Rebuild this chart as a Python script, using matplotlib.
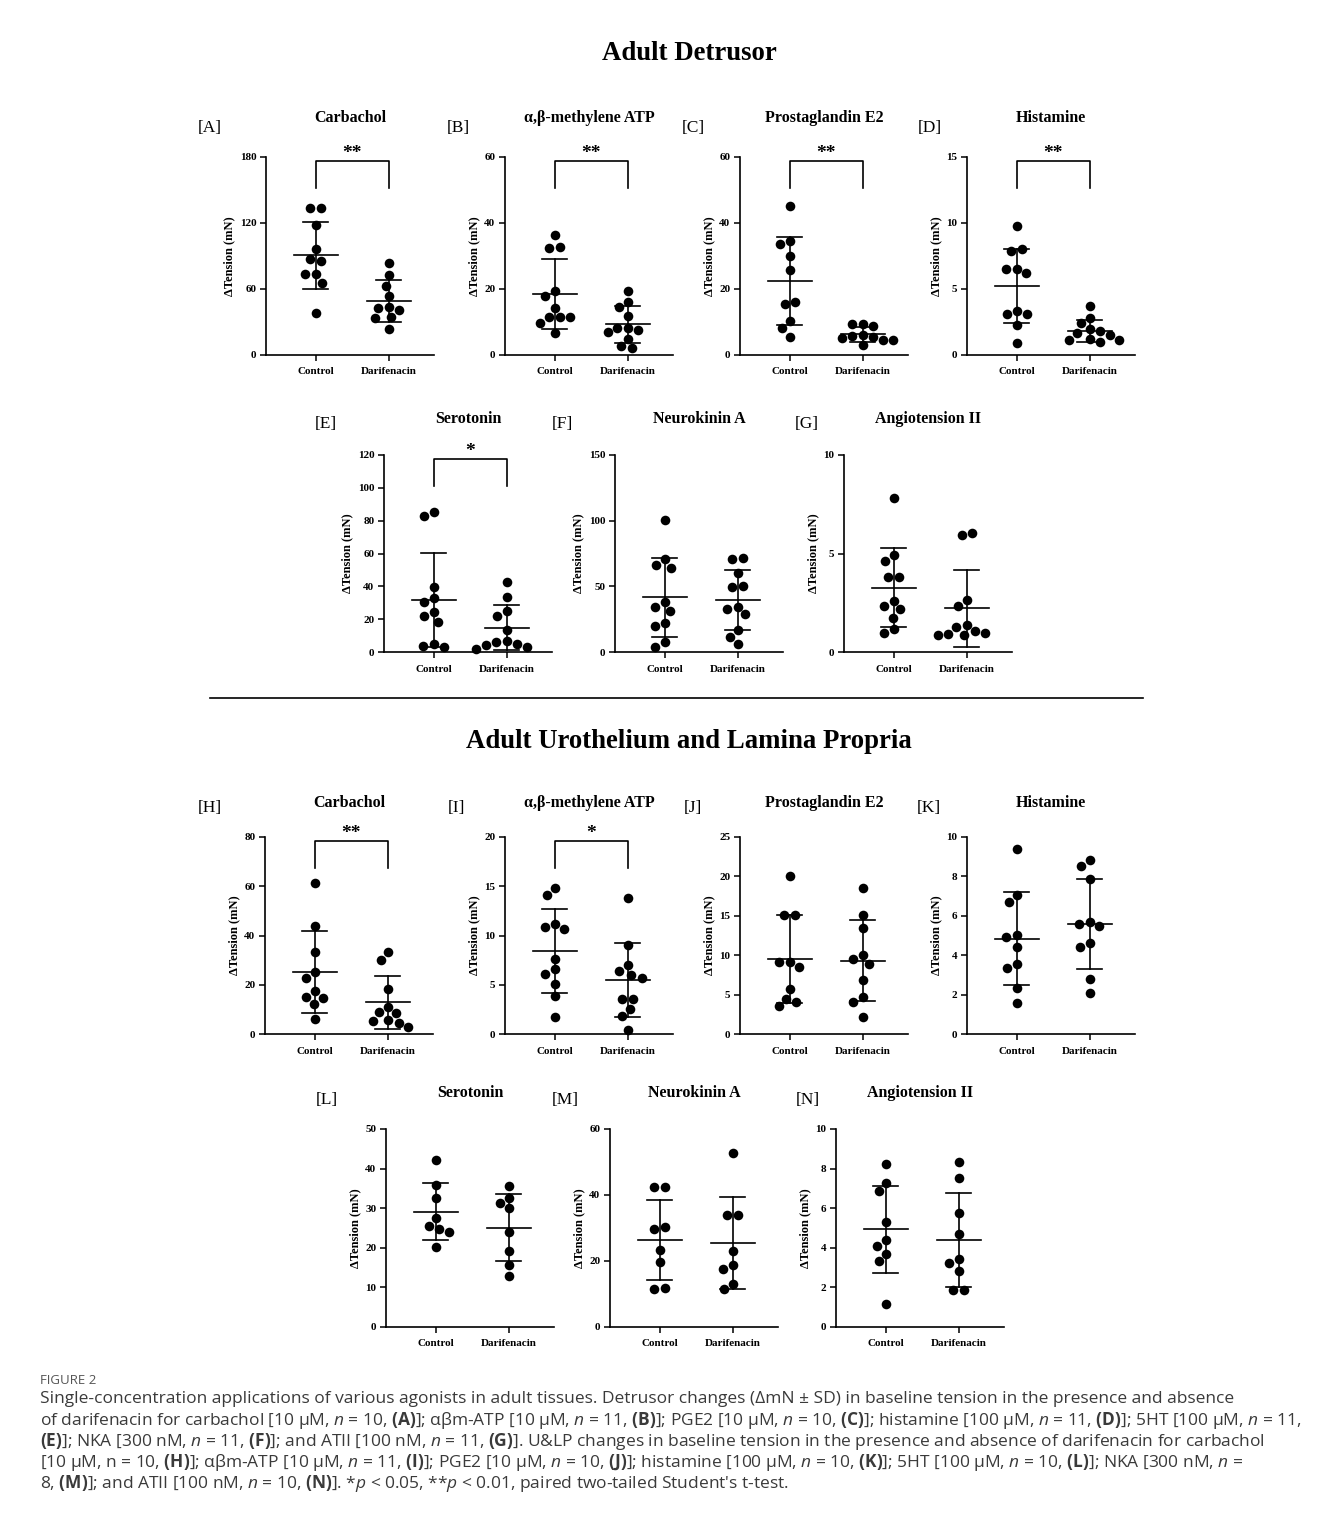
import numpy as np
import matplotlib
matplotlib.use("Agg")
import matplotlib.pyplot as plt

groups = ["Control", "Darifenacin"]

# ---- Adult detrusor (mN) ----
carb_det_ctrl = [133.6, 133.6, 117.8, 96.6, 87.1, 85.6, 73.5, 73.5, 65.9, 38.6]
carb_det_darif = [83.2, 72.3, 63.1, 54.0, 43.7, 42.5, 41.3, 34.3, 33.4, 23.7]
atp_det_ctrl = [36.5, 32.8, 32.5, 19.3, 17.8, 14.2, 11.6, 11.4, 11.4, 9.8, 6.6]
atp_det_darif = [19.5, 16.0, 14.4, 11.7, 8.3, 8.1, 7.6, 6.9, 5.0, 2.6, 2.1]
pge_det_ctrl = [45.3, 34.5, 33.5, 30.1, 25.9, 16.0, 15.4, 10.2, 8.1, 5.6]
pge_det_darif = [9.3, 9.3, 8.8, 6.1, 5.9, 5.6, 5.3, 4.5, 4.5, 2.9]
hist_det_ctrl = [9.8, 8.0, 7.9, 6.5, 6.5, 6.2, 3.3, 3.1, 3.1, 2.3, 0.9]
hist_det_darif = [3.7, 2.8, 2.4, 2.0, 1.8, 1.65, 1.5, 1.2, 1.15, 1.1, 1.0]
sero_det_ctrl = [85.2, 82.6, 39.4, 32.7, 30.6, 24.1, 22.1, 18.3, 4.9, 3.7, 3.0]
sero_det_darif = [42.6, 33.3, 24.7, 22.1, 13.6, 6.9, 6.1, 5.1, 4.1, 3.0, 2.0]
nka_det_ctrl = [100.6, 70.9, 65.9, 64.3, 37.7, 33.9, 30.9, 22.0, 19.5, 7.6, 3.8]
nka_det_darif = [71.4, 70.9, 60.0, 49.9, 49.4, 34.5, 32.9, 29.1, 17.0, 11.4, 6.1]
at2_det_ctrl = [7.82, 4.9, 4.6, 3.8, 3.8, 2.6, 2.36, 2.16, 1.74, 1.15, 0.98]
at2_det_darif = [6.05, 5.95, 2.65, 2.36, 1.39, 1.27, 1.05, 0.95, 0.93, 0.88, 0.84]

# ---- Adult urothelium & lamina propria (mN) ----
carb_ulp_ctrl = [61.5, 43.8, 33.3, 25.0, 22.7, 17.4, 15.2, 14.7, 12.3, 6.1]
carb_ulp_darif = [33.2, 30.0, 18.2, 11.1, 9.0, 8.4, 5.7, 5.4, 4.3, 2.7]
atp_ulp_ctrl = [14.84, 14.13, 11.2, 10.83, 10.7, 7.65, 6.58, 6.1, 5.06, 3.85, 1.69]
atp_ulp_darif = [13.83, 9.04, 7.0, 6.44, 6.0, 5.73, 3.6, 3.54, 2.56, 1.85, 0.44]
pge_ulp_ctrl = [20.07, 15.13, 15.05, 9.1, 9.1, 8.5, 5.73, 4.47, 4.05, 3.54]
pge_ulp_darif = [18.5, 15.1, 13.4, 10.0, 9.5, 8.9, 6.87, 4.68, 4.05, 2.15]
hist_ulp_ctrl = [9.41, 7.05, 6.68, 5.03, 4.92, 4.44, 3.56, 3.34, 2.34, 1.57]
hist_ulp_darif = [8.85, 8.55, 7.88, 5.7, 5.6, 5.5, 4.64, 4.44, 2.78, 2.07]
sero_ulp_ctrl = [42.2, 35.8, 32.6, 27.6, 25.6, 24.7, 23.9, 20.3]
sero_ulp_darif = [35.5, 32.7, 31.2, 30.0, 23.9, 19.2, 15.6, 12.9]
nka_ulp_ctrl = [42.3, 42.3, 30.2, 29.8, 23.3, 19.7, 11.9, 11.4]
nka_ulp_darif = [52.8, 33.9, 33.9, 23.1, 18.7, 17.5, 13.0, 11.4]
at2_ulp_ctrl = [8.23, 7.25, 6.86, 5.28, 4.38, 4.11, 3.71, 3.32, 1.18]
at2_ulp_darif = [8.33, 7.54, 5.77, 4.7, 3.42, 3.22, 2.83, 1.85, 1.85]

titles = ["Carbachol", "α,β-methylene ATP", "Prostaglandin E2", "Histamine",
          "Serotonin", "Neurokinin A", "Angiotension II"]
det_letters = ["[A]", "[B]", "[C]", "[D]", "[E]", "[F]", "[G]"]
ulp_letters = ["[H]", "[I]", "[J]", "[K]", "[L]", "[M]", "[N]"]
det_ymax = [180, 60, 60, 15, 120, 150, 10]
det_ystep = [60, 20, 20, 5, 20, 50, 5]
det_sig = ["**", "**", "**", "**", "*", "", ""]
ulp_ymax = [80, 20, 25, 10, 50, 60, 10]
ulp_ystep = [20, 5, 5, 2, 10, 20, 2]
ulp_sig = ["**", "*", "", "", "", "", ""]

det_data = [(carb_det_ctrl, carb_det_darif), (atp_det_ctrl, atp_det_darif),
            (pge_det_ctrl, pge_det_darif), (hist_det_ctrl, hist_det_darif),
            (sero_det_ctrl, sero_det_darif), (nka_det_ctrl, nka_det_darif),
            (at2_det_ctrl, at2_det_darif)]
ulp_data = [(carb_ulp_ctrl, carb_ulp_darif), (atp_ulp_ctrl, atp_ulp_darif),
            (pge_ulp_ctrl, pge_ulp_darif), (hist_ulp_ctrl, hist_ulp_darif),
            (sero_ulp_ctrl, sero_ulp_darif), (nka_ulp_ctrl, nka_ulp_darif),
            (at2_ulp_ctrl, at2_ulp_darif)]

caption_lines = [
    "Single-concentration applications of various agonists in adult tissues. Detrusor changes (ΔmN ± SD) in baseline tension in the presence and absence",
    r"of darifenacin for carbachol [10 μM, $\mathit{n}$ = 10, $\mathbf{(A)}$]; αβm-ATP [10 μM, $\mathit{n}$ = 11, $\mathbf{(B)}$]; PGE2 [10 μM, $\mathit{n}$ = 10, $\mathbf{(C)}$]; histamine [100 μM, $\mathit{n}$ = 11, $\mathbf{(D)}$]; 5HT [100 μM, $\mathit{n}$ = 11,",
    r"$\mathbf{(E)}$]; NKA [300 nM, $\mathit{n}$ = 11, $\mathbf{(F)}$]; and ATII [100 nM, $\mathit{n}$ = 11, $\mathbf{(G)}$]. U&LP changes in baseline tension in the presence and absence of darifenacin for carbachol",
    r"[10 μM, n = 10, $\mathbf{(H)}$]; αβm-ATP [10 μM, $\mathit{n}$ = 11, $\mathbf{(I)}$]; PGE2 [10 μM, $\mathit{n}$ = 10, $\mathbf{(J)}$]; histamine [100 μM, $\mathit{n}$ = 10, $\mathbf{(K)}$]; 5HT [100 μM, $\mathit{n}$ = 10, $\mathbf{(L)}$]; NKA [300 nM, $\mathit{n}$ =",
    r"8, $\mathbf{(M)}$]; and ATII [100 nM, $\mathit{n}$ = 10, $\mathbf{(N)}$]. *$\mathit{p}$ < 0.05, **$\mathit{p}$ < 0.01, paired two-tailed Student's t-test.",
]

plt.rcParams["font.family"] = ["Liberation Serif", "DejaVu Serif"]
plt.rcParams["mathtext.fontset"] = "custom"
plt.rcParams["mathtext.rm"] = "Open Sans"
plt.rcParams["mathtext.it"] = "Open Sans:italic"
plt.rcParams["mathtext.bf"] = "Open Sans:bold"

W, H = 1333, 1526
fig = plt.figure(figsize=(W / 100, H / 100), dpi=100)

AX_W = 168
XLIM = (-0.68, 1.62)
X_PPU = AX_W / (XLIM[1] - XLIM[0])

# layout in pixels: (top, height, lefts, letter x, letter y, title y)
rows = [
    (157, 198, [266, 505, 740, 967], [210, 458, 693, 930], 128, 118),
    (455, 197, [384, 615, 844], [326, 562, 807], 424, 419),
    (837, 197, [265, 505, 740, 967], [210, 456, 693, 929], 808, 803),
    (1129, 198, [386, 610, 836], [327, 565, 808], 1100, 1093),
]


def _collides(pts, i, x, y, gap):
    for j, (px, py) in enumerate(pts):
        if j != i and (x - px) ** 2 + (y - py) ** 2 < gap ** 2 - 1e-6:
            return True
    return False


def swarm_offsets(vals, ppu, gap=10.5):
    # simple beeswarm in pixel space, returns offsets in x data units
    ys = np.asarray(vals, dtype=float) * ppu
    order = np.argsort(ys)[::-1]
    placed = []
    idx = []
    for i in order:
        y = ys[i]
        near = [(px, py) for px, py in placed if abs(py - y) < gap]
        cands = [0.0]
        for px, py in near:
            dx = np.sqrt(gap ** 2 - (py - y) ** 2)
            cands += [px - dx, px + dx]
        bias = sum(px for px, _ in near)
        cands.sort(key=lambda c: (round(abs(c), 3), c * bias))
        x = cands[0]
        for c in cands:
            if all((c - px) ** 2 + (y - py) ** 2 >= gap ** 2 - 1e-6 for px, py in near):
                x = c
                break
        placed.append((x, y))
        idx.append(i)

    # centre rows of (almost) equal height, like GraphPad does
    n = len(placed)
    seen = set()
    for a in range(n):
        if a in seen:
            continue
        row = [a]
        for b in range(n):
            if b != a and abs(placed[b][1] - placed[a][1]) < 2.0:
                row.append(b)
        seen.update(row)
        if len(row) < 2:
            continue
        shift = -np.mean([placed[r][0] for r in row])
        trial = list(placed)
        for r in row:
            trial[r] = (placed[r][0] + shift, placed[r][1])
        if not any(_collides(trial, r, trial[r][0], trial[r][1], gap) for r in row):
            placed = trial

    offs = np.zeros(n)
    for k, i in enumerate(idx):
        offs[i] = placed[k][0]
    return offs / X_PPU


def draw_panel(rect_px, letter_xy, title_y, title, letter, series, ymax, ystep, sig):
    left, top, w, h = rect_px
    ax = fig.add_axes([left / W, 1 - (top + h) / H, w / W, h / H])
    ax.set_xlim(*XLIM)
    ax.set_ylim(0, ymax)
    ppu = h / ymax
    for gi, vals in enumerate(series):
        vals = np.asarray(vals, dtype=float)
        m, sd = vals.mean(), vals.std(ddof=1)
        ax.plot([gi - 0.30, gi + 0.30], [m, m], color="black", lw=1.2, zorder=2)
        ax.plot([gi, gi], [m - sd, m + sd], color="black", lw=1.2, zorder=2)
        for yy in (m - sd, m + sd):
            ax.plot([gi - 0.17, gi + 0.17], [yy, yy], color="black", lw=1.2, zorder=2)
        xs = gi + swarm_offsets(vals, ppu)
        ax.scatter(xs, vals, s=48, color="black", linewidths=0, zorder=3, clip_on=False)

    ax.spines["top"].set_visible(False)
    ax.spines["right"].set_visible(False)
    for sp in ("left", "bottom"):
        ax.spines[sp].set_linewidth(1.2)
    ax.set_yticks(np.arange(0, ymax + ystep / 2, ystep))
    ax.set_xticks([0, 1])
    ax.set_xticklabels(groups)
    ax.tick_params(direction="out", length=4, width=1.1, labelsize=8, pad=3)
    ax.tick_params(axis="x", pad=5)
    for lab in ax.get_xticklabels() + ax.get_yticklabels():
        lab.set_fontweight("bold")
    ax.set_ylabel("ΔTension (mN)", fontsize=9, fontweight="bold", labelpad=3)

    if sig:
        tr = ax.get_xaxis_transform()
        ax.plot([0, 0, 1, 1], [0.845, 0.982, 0.982, 0.845], color="black",
                lw=1.2, transform=tr, clip_on=False)
        ax.text(0.5, 1.02, sig, transform=tr, ha="center", va="center",
                fontsize=14, fontweight="bold")

    fig.text((left + w / 2) / W, 1 - title_y / H, title, ha="center", va="center",
             fontsize=11.5, fontweight="bold")
    fig.text(letter_xy[0] / W, 1 - letter_xy[1] / H, letter, ha="center", va="center",
             fontsize=12.5)
    return ax


def draw_block(data, letters, ymaxs, ysteps, sigs, row_a, row_b):
    k = 0
    for row in (row_a, row_b):
        top, h, lefts, lxs, ly, ty = row
        for j, left in enumerate(lefts):
            draw_panel((left, top, AX_W, h), (lxs[j], ly), ty, titles[k], letters[k],
                       data[k], ymaxs[k], ysteps[k], sigs[k])
            k += 1


draw_block(det_data, det_letters, det_ymax, det_ystep, det_sig, rows[0], rows[1])
draw_block(ulp_data, ulp_letters, ulp_ymax, ulp_ystep, ulp_sig, rows[2], rows[3])

fig.text(689 / W, 1 - 53 / H, "Adult Detrusor", ha="center", va="center",
         fontsize=19.3, fontweight="bold")
fig.text(689 / W, 1 - 742 / H, "Adult Urothelium and Lamina Propria", ha="center",
         va="center", fontsize=19.3, fontweight="bold")
fig.add_artist(plt.Line2D([210 / W, 1143 / W], [1 - 698 / H, 1 - 698 / H],
                          color="black", lw=1.2))

fig.text(40 / W, 1 - 1380 / H, "FIGURE 2", ha="left", va="center", fontsize=9.5,
         color="#555555", family=["Open Sans", "DejaVu Sans"])
for i, line in enumerate(caption_lines):
    fig.text(40 / W, 1 - (1399 + 21.2 * i) / H, line, ha="left", va="center",
             fontsize=12.5, color="#3a3a3a", family=["Open Sans", "DejaVu Sans"])

fig.savefig("out.png", dpi=100)
